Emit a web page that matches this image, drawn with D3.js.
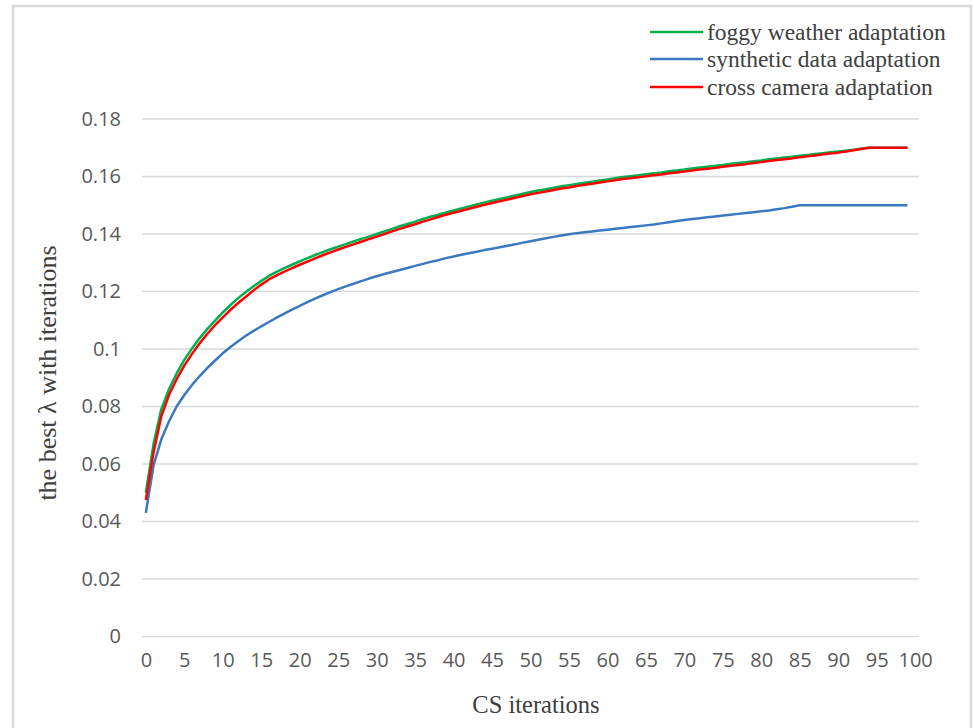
<!DOCTYPE html>
<html>
<head>
<meta charset="utf-8">
<script src="https://cdn.jsdelivr.net/npm/d3@7"></script>
<style>
  body { margin: 0; background: #fff; }
  #chart { width: 974px; height: 728px; }
</style>
</head>
<body>
<div id="chart"></div>
<script>
// iterations 0..100 on the category axis, data for 0..99
var categories = d3.range(0, 101);
var tickLabels = [0, 5, 10, 15, 20, 25, 30, 35, 40, 45, 50, 55, 60, 65, 70, 75, 80, 85, 90, 95, 100];
var yTicks = [0, 0.02, 0.04, 0.06, 0.08, 0.1, 0.12, 0.14, 0.16, 0.18];

var foggy = [
  0.0500, 0.0670, 0.0790, 0.0860, 0.0915, 0.0962, 0.1002, 0.1038, 0.1070, 0.1099,
  0.1127, 0.1153, 0.1177, 0.1198, 0.1218, 0.1237, 0.1254, 0.1268, 0.1281, 0.1293,
  0.1305, 0.1316, 0.1327, 0.1337, 0.1347, 0.1356, 0.1365, 0.1374, 0.1383, 0.1391,
  0.1400, 0.1409, 0.1418, 0.1427, 0.1435, 0.1443, 0.1452, 0.1460, 0.1467, 0.1475,
  0.1482, 0.1489, 0.1496, 0.1503, 0.1510, 0.1516, 0.1522, 0.1528, 0.1534, 0.1540,
  0.1546, 0.1551, 0.1556, 0.1561, 0.1566, 0.1570, 0.1574, 0.1578, 0.1582, 0.1586,
  0.1590, 0.1594, 0.1598, 0.1601, 0.1604, 0.1608, 0.1611, 0.1614, 0.1618, 0.1621,
  0.1624, 0.1628, 0.1631, 0.1634, 0.1637, 0.1640, 0.1644, 0.1647, 0.1650, 0.1653,
  0.1656, 0.1660, 0.1663, 0.1666, 0.1669, 0.1672, 0.1675, 0.1678, 0.1681, 0.1684,
  0.1687, 0.1690, 0.1693, 0.1697, 0.1700, 0.1700, 0.1700, 0.1700, 0.1700, 0.1700
];

var synthetic = [
  0.0430, 0.0595, 0.0685, 0.0748, 0.0800, 0.0840, 0.0875, 0.0906, 0.0934, 0.0960,
  0.0985, 0.1007, 0.1027, 0.1046, 0.1063, 0.1079, 0.1094, 0.1109, 0.1123, 0.1137,
  0.1150, 0.1163, 0.1175, 0.1187, 0.1198, 0.1208, 0.1218, 0.1227, 0.1236, 0.1245,
  0.1253, 0.1261, 0.1268, 0.1275, 0.1282, 0.1289, 0.1296, 0.1303, 0.1309, 0.1316,
  0.1322, 0.1328, 0.1333, 0.1338, 0.1344, 0.1349, 0.1354, 0.1359, 0.1364, 0.1370,
  0.1375, 0.1380, 0.1385, 0.1390, 0.1395, 0.1399, 0.1403, 0.1406, 0.1409, 0.1412,
  0.1415, 0.1418, 0.1421, 0.1424, 0.1427, 0.1430, 0.1433, 0.1437, 0.1441, 0.1445,
  0.1449, 0.1452, 0.1455, 0.1458, 0.1461, 0.1464, 0.1467, 0.1470, 0.1473, 0.1476,
  0.1479, 0.1482, 0.1486, 0.1490, 0.1495, 0.1500, 0.1500, 0.1500, 0.1500, 0.1500,
  0.1500, 0.1500, 0.1500, 0.1500, 0.1500, 0.1500, 0.1500, 0.1500, 0.1500, 0.1500
];

var crossCam = [
  0.0475, 0.0640, 0.0765, 0.0840, 0.0895, 0.0942, 0.0983, 0.1020, 0.1053, 0.1083,
  0.1110, 0.1136, 0.1160, 0.1182, 0.1204, 0.1224, 0.1242, 0.1256, 0.1269, 0.1281,
  0.1293, 0.1304, 0.1315, 0.1326, 0.1336, 0.1346, 0.1355, 0.1364, 0.1373, 0.1382,
  0.1391, 0.1400, 0.1409, 0.1418, 0.1426, 0.1434, 0.1443, 0.1451, 0.1459, 0.1467,
  0.1474, 0.1481, 0.1488, 0.1495, 0.1502, 0.1508, 0.1514, 0.1520, 0.1526, 0.1532,
  0.1538, 0.1543, 0.1548, 0.1553, 0.1558, 0.1562, 0.1567, 0.1571, 0.1575, 0.1579,
  0.1583, 0.1587, 0.1591, 0.1594, 0.1597, 0.1601, 0.1604, 0.1607, 0.1611, 0.1614,
  0.1617, 0.1621, 0.1624, 0.1627, 0.1630, 0.1634, 0.1637, 0.1640, 0.1643, 0.1647,
  0.1650, 0.1654, 0.1657, 0.1660, 0.1663, 0.1667, 0.1670, 0.1673, 0.1677, 0.1680,
  0.1683, 0.1687, 0.1691, 0.1696, 0.1700, 0.1700, 0.1700, 0.1700, 0.1700, 0.1700
];

var seriesNames = ["foggy weather adaptation", "synthetic data adaptation", "cross camera adaptation"];
var seriesColors = ["#00b050", "#3a78c0", "#ff0000"];

var width = 974, height = 728;

var svg = d3.select("#chart")
    .append("svg")
    .attr("width", width)
    .attr("height", height);

// outer frame
svg.append("rect")
    .attr("x", 13).attr("y", 6)
    .attr("width", 958).attr("height", 740)
    .attr("fill", "none")
    .attr("stroke", "#d9d9d9")
    .attr("stroke-width", 2.5);

var x = d3.scalePoint()
    .domain(categories)
    .range([142, 919])
    .padding(0.5);

var y = d3.scaleLinear()
    .domain([0, 0.18])
    .range([636.5, 119]);

// gridlines
svg.append("g").selectAll("line")
    .data(yTicks)
    .enter()
    .append("line")
    .attr("x1", 142).attr("x2", 919)
    .attr("y1", function (d) { return y(d); })
    .attr("y2", function (d) { return y(d); })
    .attr("stroke", "#d9d9d9")
    .attr("stroke-width", 1.5);

var yAxis = d3.axisLeft(y)
    .tickValues(yTicks)
    .tickSize(0)
    .tickPadding(21)
    .tickFormat(function (d) { return d === 0 ? "0" : String(+d.toFixed(2)); });

svg.append("g")
    .attr("transform", "translate(142,0)")
    .call(yAxis)
    .call(function (g) { g.select(".domain").remove(); })
    .selectAll("text")
    .attr("font-family", "'Open Sans', sans-serif")
    .attr("font-size", 20)
    .attr("fill", "#595959");

var xAxis = d3.axisBottom(x)
    .tickValues(tickLabels)
    .tickSize(0)
    .tickPadding(16);

svg.append("g")
    .attr("transform", "translate(0,636.5)")
    .call(xAxis)
    .call(function (g) { g.select(".domain").remove(); })
    .selectAll("text")
    .attr("font-family", "'Open Sans', sans-serif")
    .attr("font-size", 20)
    .attr("fill", "#595959");

var line = d3.line()
    .x(function (d, i) { return x(categories[i]); })
    .y(function (d) { return y(d); });

// green, blue, then red on top
var allSeries = [foggy, synthetic, crossCam];
svg.append("g").selectAll("path")
    .data(allSeries)
    .enter()
    .append("path")
    .attr("d", line)
    .attr("fill", "none")
    .attr("stroke", function (d, i) { return seriesColors[i]; })
    .attr("stroke-width", 2.5)
    .attr("stroke-linejoin", "round");

// axis titles
svg.append("text")
    .attr("x", 536).attr("y", 713)
    .attr("text-anchor", "middle")
    .attr("font-family", "'Liberation Serif', 'Times New Roman', serif")
    .attr("font-size", 24.5)
    .attr("fill", "#404040")
    .text("CS iterations");

svg.append("text")
    .attr("transform", "translate(56,373) rotate(-90)")
    .attr("text-anchor", "middle")
    .attr("font-family", "'Liberation Serif', 'Times New Roman', serif")
    .attr("font-size", 26)
    .attr("fill", "#404040")
    .text("the best \u03bb with iterations");

// legend
var legend = svg.append("g").selectAll("g")
    .data(seriesNames)
    .enter()
    .append("g")
    .attr("transform", function (d, i) { return "translate(650," + [32, 59, 87][i] + ")"; });

legend.append("line")
    .attr("x1", 0).attr("x2", 53)
    .attr("stroke", function (d, i) { return seriesColors[i]; })
    .attr("stroke-width", 2.5);

legend.append("text")
    .attr("x", 57).attr("y", 7.5)
    .attr("font-family", "'Liberation Serif', 'Times New Roman', serif")
    .attr("font-size", 23.5)
    .attr("fill", "#404040")
    .text(function (d) { return d; });
</script>
</body>
</html>
